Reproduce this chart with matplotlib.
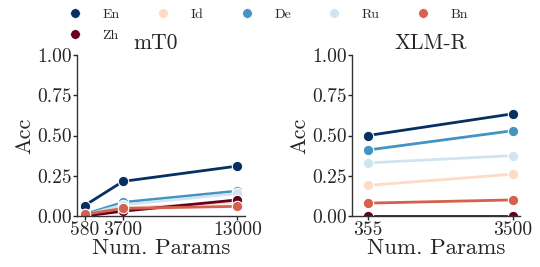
import numpy as np
import matplotlib
matplotlib.use('Agg')
import matplotlib.pyplot as plt
from matplotlib.ticker import FormatStrFormatter
from matplotlib.lines import Line2D

plt.rcParams['font.family'] = 'serif'
plt.rcParams['font.serif'] = ['cmr10', 'DejaVu Serif']
plt.rcParams['mathtext.fontset'] = 'cm'
plt.rcParams['axes.formatter.use_mathtext'] = True

langs = ['En', 'Id', 'De', 'Ru', 'Bn', 'Zh']
colors = {'En': '#053061', 'Id': '#fddbc7', 'De': '#4393c3',
          'Ru': '#d1e5f0', 'Bn': '#d6604d', 'Zh': '#67001f'}
draw_order = ['En', 'Id', 'De', 'Ru', 'Zh', 'Bn']

# mT0
mt0_params = [580, 3700, 13000]
mt0_acc = {
    'En': [0.065, 0.215, 0.31],
    'Id': [0.0, 0.05, 0.085],
    'De': [0.01, 0.085, 0.155],
    'Ru': [0.005, 0.07, 0.14],
    'Bn': [0.01, 0.047, 0.06],
    'Zh': [0.0, 0.03, 0.10],
}

# XLM-R
xlmr_params = [355, 3500]
xlmr_acc = {
    'En': [0.50, 0.635],
    'Id': [0.19, 0.26],
    'De': [0.41, 0.53],
    'Ru': [0.33, 0.375],
    'Bn': [0.08, 0.10],
    'Zh': [0.0, 0.0],
}

txt = '.15'
fig = plt.figure(figsize=(5.4, 2.67), dpi=100)
ax1 = fig.add_axes([0.1426, 0.191, 0.311, 0.603])
ax2 = fig.add_axes([0.652, 0.191, 0.311, 0.603])

for ax, params, acc, title in [(ax1, mt0_params, mt0_acc, 'mT0'),
                               (ax2, xlmr_params, xlmr_acc, 'XLM-R')]:
    for lang in draw_order:
        ax.plot(params, acc[lang], color=colors[lang], lw=2, marker='o',
                ms=7.5, mec='white', mew=0.8)
    ax.set_ylim(0, 1)
    ax.set_yticks([0, 0.25, 0.5, 0.75, 1.0])
    ax.yaxis.set_major_formatter(FormatStrFormatter('%.2f'))
    ax.set_xticks(params)
    ax.set_xticklabels([str(p) for p in params])
    ax.spines[['right', 'top']].set_visible(False)
    for s in ['left', 'bottom']:
        ax.spines[s].set_color('.2')
        ax.spines[s].set_linewidth(1.0)
    ax.tick_params(labelsize=14, colors=txt, length=3, width=1, pad=1)
    ax.set_xlabel('Num. Params', fontsize=16.5, color=txt, labelpad=-1)
    ax.set_ylabel('Acc', fontsize=16, color=txt, labelpad=2)
    ax.set_title(title, fontsize=15.5, color=txt, x=0.47, pad=4)

ax1.set_xlim(-41, 13621)
ax2.set_xlim(8, 3652)

# matplotlib fills legend columns first, so put Zh second to get it under En
leg_order = ['En', 'Zh', 'Id', 'De', 'Ru', 'Bn']
handles = [Line2D([], [], ls='none', marker='o', ms=7, color=colors[l],
                  mec='white', mew=0.5) for l in leg_order]
fig.legend(handles, leg_order, loc='upper center', bbox_to_anchor=(0.49, 1.015),
           ncol=5, frameon=False, fontsize=10, handlelength=2,
           handletextpad=1.0, columnspacing=2.1, labelspacing=0.55,
           labelcolor=txt)

fig.savefig('out.png', dpi=100)
